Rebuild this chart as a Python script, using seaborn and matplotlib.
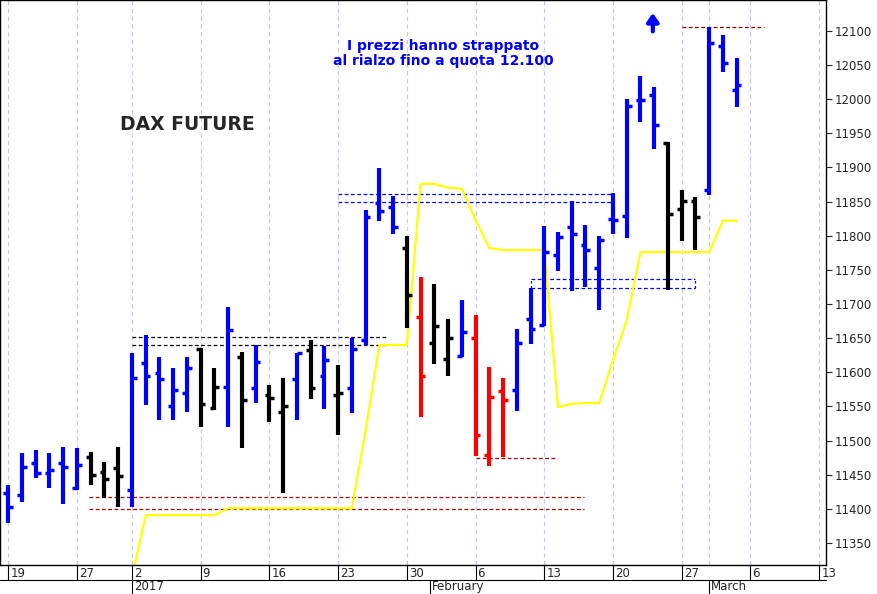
import matplotlib
matplotlib.use("Agg")
import matplotlib.pyplot as plt
import matplotlib.transforms as mtransforms
import seaborn as sns
import pandas as pd
import numpy as np

sns.set_style("white")
plt.rcParams['font.family'] = ['DejaVu Sans']

opens  = [11423,11420,11467,11452,11467,11430,11476,11454,11460,11428,11614,11599,11550,11570,11634,11548,11578,11622,11577,11567,11542,11590,11633,11594,11567,11577,11647,11848,11842,11782,11681,11643,11620,11624,11650,11479,11573,11574,11678,11669,11772,11813,11786,11753,11825,11829,11998,12006,11936,11839,11851,11867,12077,12013]
highs  = [11435,11482,11486,11482,11491,11489,11483,11469,11491,11628,11655,11622,11606,11622,11636,11606,11695,11630,11640,11581,11592,11628,11647,11638,11611,11650,11838,11899,11858,11800,11740,11729,11678,11706,11684,11608,11592,11663,11723,11814,11806,11851,11816,11800,11863,12000,12034,12018,11937,11867,11857,12106,12094,12060]
lows   = [11379,11410,11445,11430,11408,11428,11435,11416,11403,11403,11552,11530,11530,11542,11520,11545,11520,11489,11555,11527,11423,11530,11561,11546,11508,11540,11640,11822,11803,11665,11535,11612,11595,11622,11477,11463,11476,11543,11641,11668,11748,11719,11725,11691,11803,11797,11967,11927,11721,11792,11779,11860,12040,11989]
closes = [11403,11461,11452,11457,11461,11464,11450,11444,11448,11592,11595,11590,11574,11606,11554,11578,11662,11559,11615,11562,11551,11628,11577,11618,11570,11634,11828,11836,11813,11713,11595,11668,11650,11659,11508,11564,11559,11643,11663,11776,11798,11803,11779,11794,11823,11990,11998,11962,11832,11851,11828,12082,12053,12021]
colors = list("BBBBBBKKKBBBBBKKBKBKKBKBKBBBBKRKKBRRRBBBBBBBBBBBKKKBBB")

yellow_idx = list(range(9, 54))
yellow_val = [11300,11391,11391,11391,11391,11391,11391,11401,11401,11401,11401,11401,11401,11401,11401,11401,11401,11515,11640,11640,11640,11876,11876,11870,11869,11823,11782,11779,11779,11779,11779,11549,11554,11555,11555,11618,11676,11776,11776,11776,11776,11776,11776,11822,11822]

tick_pos = [0,5,9,14,19,24,29,34,39,44,49,54,59]
tick_lab = ["19","27","2","9","16","23","30","6","13","20","27","6","13"]
period_pos = [9, 30.7, 51]
period_lab = ["2017","February","March"]
yticks = list(range(11350, 12101, 50))

cmap = {"B": "#0000FF", "K": "#000000", "R": "#FF0000"}

fig = plt.figure(figsize=(8.77, 5.94), dpi=100)
ax = fig.add_axes([0, 29/594, 826/877, 565/594])
ax.set_xlim(-0.6, 59.5)
ax.set_ylim(11318, 12145)

for xp in tick_pos + [51]:
    ax.axvline(xp, color="#c8c8e8", lw=0.8, ls=(0, (4, 3)), zorder=0)

# dashed levels
ax.hlines([11652, 11640], 9, 27.5, colors="black", lw=0.9, ls=(0, (3, 2)))
ax.hlines([11417, 11400], 5.9, 41.9, colors="#aa0000", lw=0.9, ls=(0, (3, 2)))
ax.hlines([11474], 34, 39.8, colors="#aa0000", lw=0.9, ls=(0, (3, 2)))
ax.hlines([11861, 11849], 24, 44.1, colors="blue", lw=0.9, ls=(0, (3, 2)))
ax.hlines([11736, 11723], 38, 50, colors="blue", lw=0.9, ls=(0, (3, 2)))
ax.vlines([38, 50], 11723, 11736, colors="blue", lw=0.9, ls=(0, (2, 2)))
ax.hlines([12106], 49, 55, colors="#800000", lw=0.9, ls=(0, (3, 2)))

ydf = pd.DataFrame({"x": yellow_idx, "y": yellow_val})
sns.lineplot(data=ydf, x="x", y="y", color="#FFFF00", lw=1.6, ax=ax, zorder=2)

for i in range(len(opens)):
    c = cmap[colors[i]]
    ax.vlines(i, lows[i], highs[i], colors=c, lw=3, zorder=3)
    ax.hlines(opens[i], i - 0.35, i, colors=c, lw=2.5, zorder=3)
    ax.hlines(closes[i], i, i + 0.35, colors=c, lw=2.5, zorder=3)

ax.set_xlabel(""); ax.set_ylabel("")
ax.set_xticks([])
ax.yaxis.tick_right()
ax.set_yticks(yticks)
ax.set_yticklabels([str(v) for v in yticks], fontsize=8.5)
ax.tick_params(axis="y", direction="out", length=4, width=0.8, pad=2)
for s in ax.spines.values():
    s.set_color("black"); s.set_linewidth(1)

trans = mtransforms.blended_transform_factory(ax.transData, ax.transAxes)
for xp, lab in zip(tick_pos, tick_lab):
    ax.plot([xp, xp], [0, -0.027], transform=trans, color="black", lw=0.8, clip_on=False)
    ax.text(xp + 0.15, -0.004, lab, transform=trans, fontsize=8.5, ha="left", va="top")
ax.plot([-0.6, 59.5], [-0.027, -0.027], transform=trans, color="black", lw=0.8, clip_on=False)
for xp, lab in zip(period_pos, period_lab):
    ax.plot([xp, xp], [-0.027, -0.06], transform=trans, color="black", lw=0.8, clip_on=False)
    ax.text(xp + 0.15, -0.027, lab, transform=trans, fontsize=8.5, ha="left", va="top")

ax.text(0.227, 0.78, "DAX FUTURE", transform=ax.transAxes, fontsize=13.5, fontweight="bold", ha="center", va="center")
ax.text(0.537, 0.905, "I prezzi hanno strappato\nal rialzo fino a quota 12.100", transform=ax.transAxes,
        fontsize=10, fontweight="bold", color="blue", ha="center", va="center", linespacing=1.1)
ax.annotate("", xy=(46.9, 12130), xytext=(46.9, 12095),
            arrowprops=dict(arrowstyle="-|>,head_width=0.35,head_length=0.5", color="blue", lw=3))

fig.savefig("out.png", dpi=100)
